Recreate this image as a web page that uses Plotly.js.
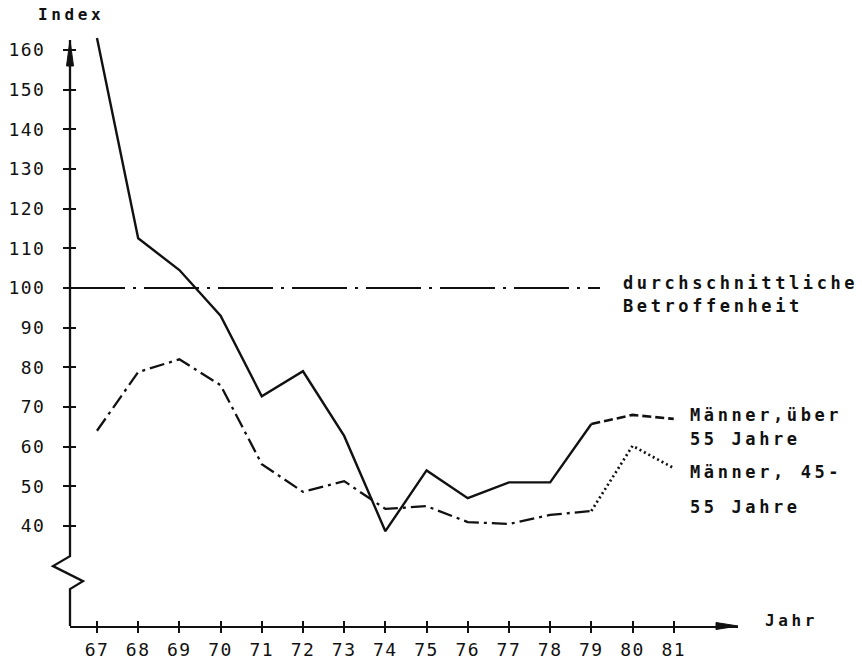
<!DOCTYPE html>
<html>
<head>
<meta charset="utf-8">
<script src="https://cdn.plot.ly/plotly-3.0.1.min.js"></script>
<style>
  html, body { margin: 0; padding: 0; background: #fff; }
  #chart { width: 862px; height: 661px; }
  .annotation-text { letter-spacing: 3.6px; }
  .xtick text, .ytick text { letter-spacing: 1.5px; }
</style>
</head>
<body>
<div id="chart"></div>
<script>
// ---- data ----
const years = [67, 68, 69, 70, 71, 72, 73, 74, 75, 76, 77, 78, 79, 80, 81];
const yearLabels = ["67","68","69","70","71","72","73","74","75","76","77","78","79","80","81"];
const menOver55 = [163, 112.5, 104.5, 93, 72.7, 79, 62.7, 38.7, 54, 47, 51, 51, 65.7, 68, 67];
const men45to55 = [64, 78.8, 82, 75.5, 55.6, 48.6, 51.3, 44.3, 45, 41, 40.5, 42.8, 43.8, 60.2, 54.6];
const averageLevel = 100;
const yTickVals = [40, 50, 60, 70, 80, 90, 100, 110, 120, 130, 140, 150, 160];
const yTickText = ["40","50","60","70","80","90","100","110","120","130","140","150","160"];
const splitIndex = 12; // 1979: style changes after this year

const ink = '#111111';
const fontMono = 'DejaVu Sans Mono, Liberation Mono, monospace';
const xRange = [66.345, 82.56];
const yRange = [14.8, 165];

const traces = [
  { x: years.slice(0, splitIndex + 1), y: menOver55.slice(0, splitIndex + 1), type: 'scatter', mode: 'lines',
    line: { color: ink, width: 2.4 }, cliponaxis: false, hoverinfo: 'skip', showlegend: false },
  { x: years.slice(splitIndex), y: menOver55.slice(splitIndex), type: 'scatter', mode: 'lines',
    line: { color: ink, width: 2.6, dash: '9px,4px' }, cliponaxis: false, hoverinfo: 'skip', showlegend: false },
  { x: years.slice(0, splitIndex + 1), y: men45to55.slice(0, splitIndex + 1), type: 'scatter', mode: 'lines',
    line: { color: ink, width: 2.3, dash: '15px,5px,3px,5px' }, cliponaxis: false, hoverinfo: 'skip', showlegend: false },
  // drawn on the overlay axes (identical ranges) so that their crossing tick halves are rendered
  { x: years.slice(splitIndex), y: men45to55.slice(splitIndex), type: 'scatter', mode: 'lines',
    xaxis: 'x2', yaxis: 'y2',
    line: { color: ink, width: 2.7, dash: '2px,3px' }, cliponaxis: false, hoverinfo: 'skip', showlegend: false }
];

const ann = (text, x, y, xanchor, size) => ({
  text: '<b>' + text + '</b>', xref: 'paper', yref: 'paper', x: x, y: y,
  xanchor: xanchor, yanchor: 'middle', showarrow: false,
  font: { family: fontMono, size: size, color: ink }
});

// paper coordinate helpers for label placement (plot area 70..738 x 30..626 px)
const px = v => (v - 70) / 668;
const py = v => (626 - v) / 596;

const layout = {
  width: 862, height: 661,
  margin: { l: 70, r: 124, t: 30, b: 35 },
  paper_bgcolor: '#ffffff', plot_bgcolor: '#ffffff',
  showlegend: false,
  xaxis: {
    range: xRange, showgrid: false, zeroline: false,
    showline: true, linecolor: ink, linewidth: 2.2,
    tickmode: 'array', tickvals: years, ticktext: yearLabels,
    ticks: 'outside', ticklen: 5, tickwidth: 2, tickcolor: ink,
    ticklabelstandoff: 1,
    tickfont: { family: fontMono, size: 18, color: ink }
  },
  xaxis2: {
    range: xRange, overlaying: 'x', anchor: 'y2', showgrid: false, zeroline: false, showline: false,
    tickmode: 'array', tickvals: years, showticklabels: false,
    ticks: 'inside', ticklen: 5, tickwidth: 2, tickcolor: ink
  },
  yaxis: {
    range: yRange, showgrid: false, zeroline: false, showline: false,
    tickmode: 'array', tickvals: yTickVals, ticktext: yTickText,
    ticks: 'outside', ticklen: 6, tickwidth: 2, tickcolor: ink,
    ticklabelstandoff: 14,
    tickfont: { family: fontMono, size: 18, color: ink }
  },
  yaxis2: {
    range: yRange, overlaying: 'y', anchor: 'x2', side: 'left', showgrid: false, zeroline: false, showline: false,
    tickmode: 'array', tickvals: yTickVals, showticklabels: false,
    ticks: 'inside', ticklen: 6, tickwidth: 2, tickcolor: ink
  },
  shapes: [
    // average level reference line
    { type: 'line', xref: 'paper', yref: 'y', x0: 0, x1: px(600), y0: averageLevel, y1: averageLevel,
      line: { color: ink, width: 2, dash: '55px,8px,3px,8px' } },
    // y axis line with break
    { type: 'path', xref: 'paper', xsizemode: 'pixel', xanchor: 0, yref: 'y',
      path: 'M0,162.5 L0,32.4 L-17,29.9 L13,26.1 L0,24.1 L0,14.8',
      line: { color: ink, width: 2.3 } },
    // y axis arrowhead
    { type: 'path', xref: 'paper', xsizemode: 'pixel', xanchor: 0, yref: 'paper', ysizemode: 'pixel', yanchor: py(40),
      path: 'M0,0 L-3.5,-26 L3.5,-26 Z', fillcolor: ink, line: { color: ink, width: 1 } },
    // x axis arrowhead
    { type: 'path', xref: 'paper', xsizemode: 'pixel', xanchor: 1, yref: 'paper', ysizemode: 'pixel', yanchor: 0,
      path: 'M0,0 L-22,3.5 L-22,-3.5 Z', fillcolor: ink, line: { color: ink, width: 1 } }
  ],
  annotations: [
    ann('Index', px(36), py(14), 'left', 16),
    ann('Jahr', px(763), py(620), 'left', 16),
    ann('durchschnittliche', px(621), py(283), 'left', 17),
    ann('Betroffenheit', px(621), py(306), 'left', 17),
    ann('Männer,über', px(688), py(415), 'left', 17),
    ann('55 Jahre', px(688), py(439), 'left', 17),
    ann('Männer, 45-', px(688), py(472), 'left', 17),
    ann('55 Jahre', px(688), py(507), 'left', 17)
  ]
};

Plotly.newPlot('chart', traces, layout, { staticPlot: true, displayModeBar: false });
</script>
</body>
</html>
